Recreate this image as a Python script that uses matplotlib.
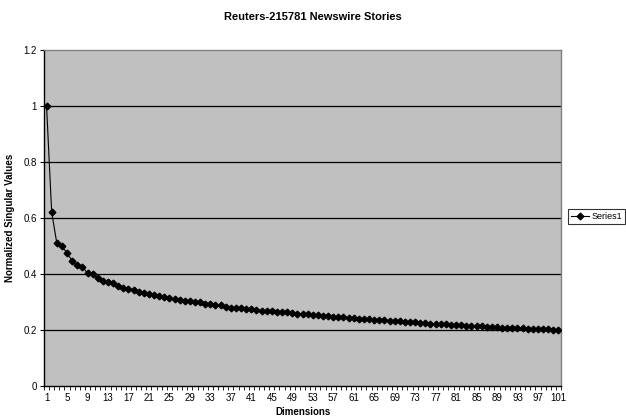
import numpy as np
import matplotlib
matplotlib.use("Agg")
import matplotlib.pyplot as plt
from matplotlib.ticker import FixedLocator, NullFormatter

plt.rcParams["font.family"] = ["Liberation Sans", "DejaVu Sans"]

# normalized singular values, dimensions 1..101
dims = np.arange(1, 102)
values = [
    1.000, 0.620, 0.510, 0.498, 0.474, 0.447, 0.430, 0.424, 0.403, 0.400,
    0.384, 0.373, 0.371, 0.366, 0.355, 0.348, 0.346, 0.341, 0.335, 0.330,
    0.329, 0.323, 0.319, 0.316, 0.313, 0.310, 0.306, 0.304, 0.301, 0.300,
    0.298, 0.293, 0.292, 0.289, 0.287, 0.283, 0.279, 0.277, 0.276, 0.275,
    0.273, 0.270, 0.268, 0.267, 0.266, 0.265, 0.263, 0.262, 0.260, 0.258,
    0.256, 0.255, 0.253, 0.252, 0.250, 0.249, 0.247, 0.246, 0.244, 0.243,
    0.242, 0.240, 0.239, 0.238, 0.236, 0.235, 0.234, 0.232, 0.231, 0.230,
    0.228, 0.227, 0.226, 0.224, 0.223, 0.222, 0.221, 0.220, 0.219, 0.218,
    0.217, 0.216, 0.215, 0.214, 0.213, 0.212, 0.211, 0.210, 0.209, 0.208,
    0.207, 0.206, 0.206, 0.205, 0.204, 0.203, 0.202, 0.201, 0.201, 0.200,
    0.199,
]
xlabels = [str(d) for d in dims[::4]]
yticks = [0, 0.2, 0.4, 0.6, 0.8, 1.0, 1.2]
ylabels = ["0", "0.2", "0.4", "0.6", "0.8", "1", "1.2"]

fig = plt.figure(figsize=(6.26, 4.19), dpi=100)
ax = fig.add_axes([44 / 626, 1 - 385.7 / 419, 517 / 626, 335.7 / 419])
ax.set_facecolor("#C0C0C0")

ax.plot(dims, values, color="black", lw=0.8, marker="D", ms=3.4,
        mfc="black", mec="black", label="Series1", zorder=3)

ax.set_xlim(0.5, 101.5)
ax.set_ylim(0, 1.2)

# category axis: tick marks on the boundaries, labels every 4th category
ax.set_xticks(dims[::4])
ax.set_xticklabels(xlabels)
ax.xaxis.set_minor_locator(FixedLocator(np.arange(0.5, 102, 1)))
ax.xaxis.set_minor_formatter(NullFormatter())
ax.tick_params(axis="x", which="major", length=0, pad=5, labelsize=7)
ax.tick_params(axis="x", which="minor", length=3, width=0.6, direction="out")

ax.set_yticks(yticks)
ax.set_yticklabels(ylabels)
ax.tick_params(axis="y", length=3, width=0.8, direction="out", labelsize=7, pad=2)

for y in yticks[1:-1]:
    ax.axhline(y, color="black", lw=0.9, zorder=1)

ax.spines["left"].set_color("black")
ax.spines["bottom"].set_color("black")
ax.spines["left"].set_linewidth(1.0)
ax.spines["bottom"].set_linewidth(1.0)
ax.spines["top"].set_color("#808080")
ax.spines["right"].set_color("#808080")
ax.spines["top"].set_linewidth(1.0)
ax.spines["right"].set_linewidth(1.0)

ax.set_ylabel("Normalized Singular Values", fontsize=7, fontweight="bold", labelpad=6)
fig.text((44 + 517 / 2) / 626, 1 - 412 / 419, "Dimensions",
         ha="center", va="center", fontsize=7, fontweight="bold")
fig.text(0.5, 1 - 17 / 419, "Reuters-215781 Newswire Stories",
         ha="center", va="center", fontsize=8, fontweight="bold")

leg = fig.legend(loc="center left", bbox_to_anchor=(568 / 626, 1 - 216.5 / 419),
                 fontsize=6.5, frameon=True, fancybox=False, borderpad=0.3,
                 handlelength=2.0, handletextpad=0.3, borderaxespad=0)
leg.get_frame().set_edgecolor("black")
leg.get_frame().set_linewidth(0.8)

fig.savefig("out.png", dpi=100)
